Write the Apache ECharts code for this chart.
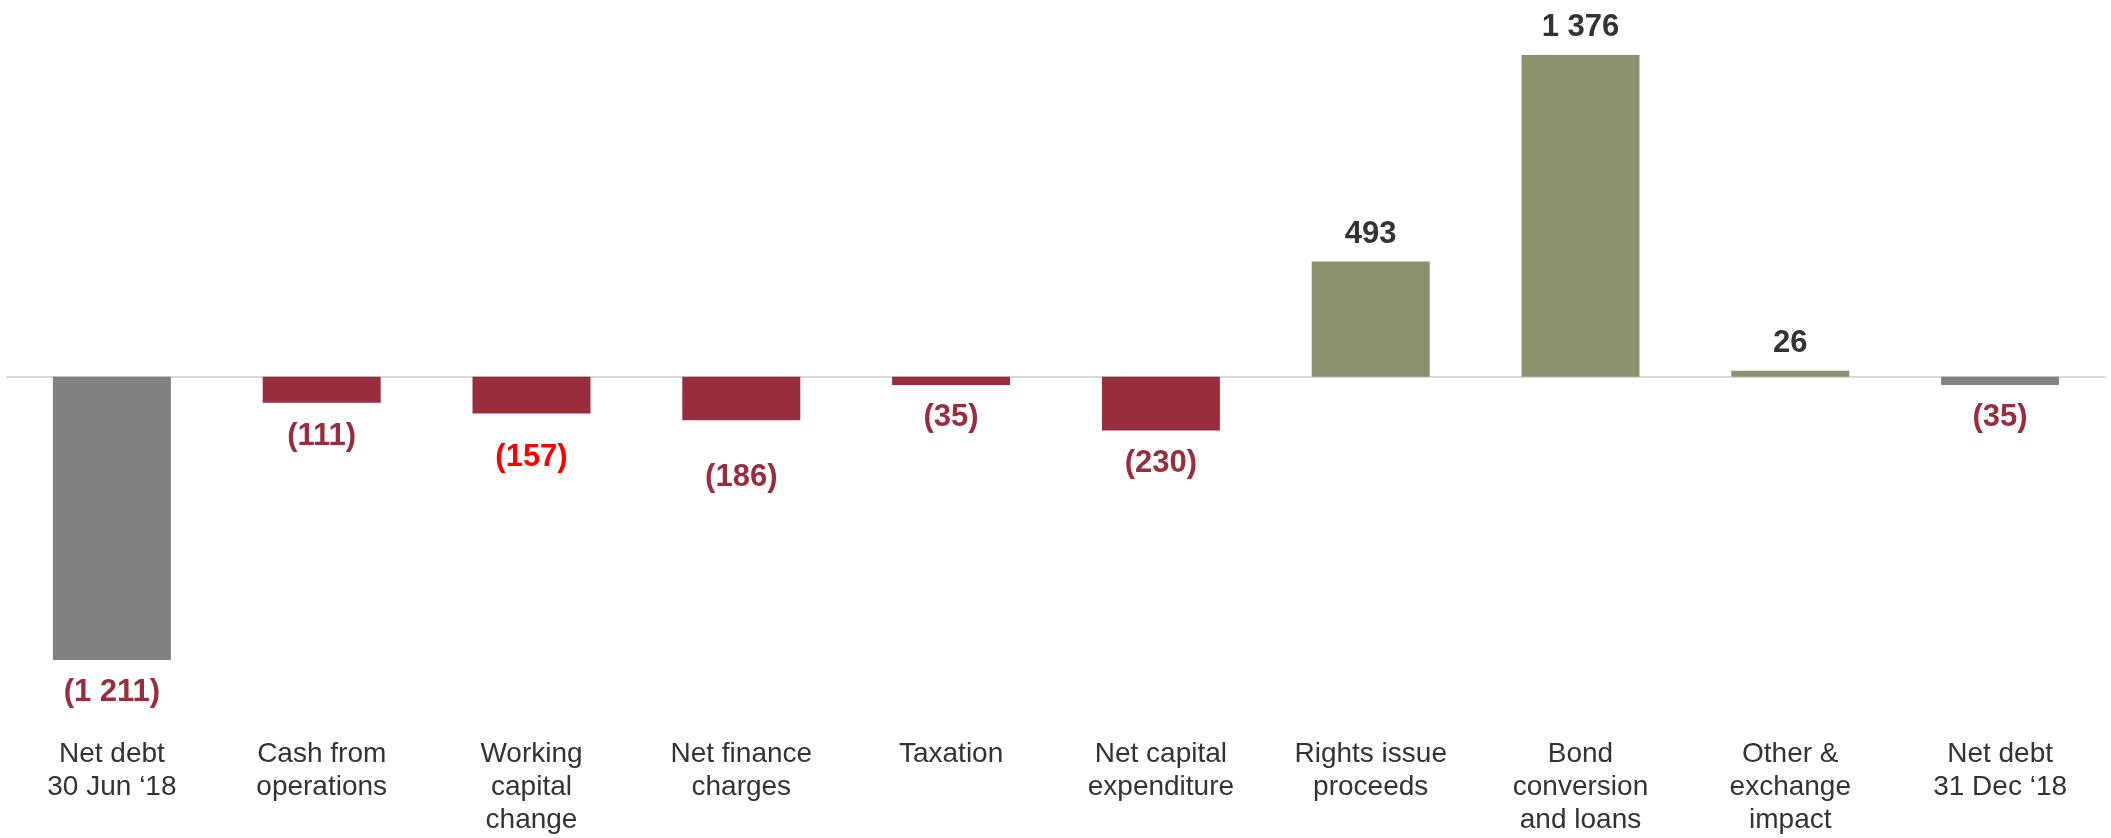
<!DOCTYPE html>
<html>
<head>
<meta charset="utf-8">
<title>Net debt movement</title>
<script src="https://cdn.jsdelivr.net/npm/echarts@6/dist/echarts.min.js"></script>
<style>
  html, body { margin: 0; padding: 0; background: #ffffff; }
  #chart { width: 2111px; height: 838px; }
</style>
</head>
<body>
<div id="chart"></div>
<script>
// Net debt bridge, 30 Jun '18 to 31 Dec '18
const categories = [
  'Net debt\n30 Jun \u201818',
  'Cash from\noperations',
  'Working\ncapital\nchange',
  'Net finance\ncharges',
  'Taxation',
  'Net capital\nexpenditure',
  'Rights issue\nproceeds',
  'Bond\nconversion\nand loans',
  'Other &\nexchange\nimpact',
  'Net debt\n31 Dec \u201818'
];
const values = [-1211, -111, -157, -186, -35, -230, 493, 1376, 26, -35];
const kinds = ['total', 'move', 'move', 'move', 'move', 'move', 'move', 'move', 'move', 'total'];

// styling
const FONT = '"Liberation Sans", Arial, Helvetica, sans-serif';
const barColor = { total: '#808180', down: '#982e3d', up: '#8b916d' };
const labelColor = { down: '#9b2c3e', up: '#333333', flagged: '#ff0000' };
const flaggedLabel = 2;
// a few value labels sit a little lower than the rest
const labelDrop = { 1: 1, 2: 11, 3: 25 };

function fmt(v) {
  const s = String(Math.abs(v)).replace(/\B(?=(\d{3})+(?!\d))/g, ' ');
  return v < 0 ? '(' + s + ')' : s;
}

const seriesData = values.map((v, i) => {
  const color = kinds[i] === 'total' ? barColor.total : (v < 0 ? barColor.down : barColor.up);
  let lc = v < 0 ? labelColor.down : labelColor.up;
  if (i === flaggedLabel) lc = labelColor.flagged;
  return {
    value: v,
    itemStyle: { color: color },
    label: {
      position: v < 0 ? 'bottom' : 'top',
      distance: v < 0 ? 17 : 12,
      offset: [0, labelDrop[i] || 0],
      color: lc
    }
  };
});

const chart = echarts.init(document.getElementById('chart'), null, { renderer: 'canvas' });
chart.setOption({
  animation: false,
  backgroundColor: '#ffffff',
  grid: { left: 7, right: 6, top: 55, bottom: 178, containLabel: false },
  xAxis: [
    {
      type: 'category',
      data: categories,
      axisLine: { onZero: true, lineStyle: { color: '#d9d9d9', width: 2 } },
      axisTick: { show: false },
      axisLabel: { show: false }
    },
    {
      type: 'category',
      data: categories,
      position: 'bottom',
      axisLine: { show: false, onZero: false },
      axisTick: { show: false },
      axisLabel: {
        interval: 0,
        margin: 78,
        color: '#333333',
        fontFamily: FONT,
        fontSize: 28,
        lineHeight: 33,
        verticalAlign: 'top'
      }
    }
  ],
  yAxis: {
    type: 'value',
    min: -1211,
    max: 1376,
    show: false,
    splitLine: { show: false }
  },
  series: [{
    type: 'bar',
    xAxisIndex: 0,
    barWidth: 118,
    data: seriesData,
    label: {
      show: true,
      fontFamily: FONT,
      fontSize: 31,
      fontWeight: 'bold',
      formatter: p => fmt(p.value)
    }
  }]
});
</script>
</body>
</html>
